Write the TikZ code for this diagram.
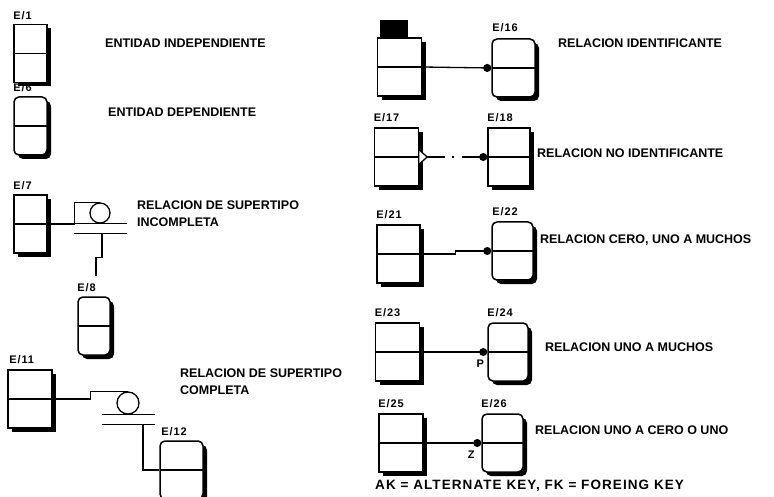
\documentclass[tikz,border=0pt]{standalone}
\usepackage{fontspec}
\setmainfont{Liberation Sans}
\newfontfamily\scanFont[LetterSpace=8]{Liberation Sans}
\usetikzlibrary{arrows.meta, positioning, calc, shadows}
\definecolor{inkBlack}{HTML}{000000}
\tikzset{
  entInd/.style={rectangle, draw=inkBlack, fill=white, line width=1.5pt, inner sep=0pt,
                 minimum width=44pt, minimum height=58pt,
                 general shadow={fill=inkBlack, shadow xshift=4pt, shadow yshift=-4pt},
                 path picture={\draw[line width=1.4pt] (path picture bounding box.west)
                               -- (path picture bounding box.east);}},
  entDep/.style={entInd, rounded corners=5pt},
  entName/.style={font=\scanFont\bfseries\fontsize{11}{11}\selectfont, inner sep=0pt},
  relText/.style={font=\bfseries\fontsize{12.5}{17}\selectfont, anchor=west, align=left, inner sep=0pt},
  relLine/.style={draw=inkBlack, line width=1.3pt},
  relDot/.style={relLine, -{Circle[length=8pt]}},
  keyMark/.style={font=\bfseries\fontsize{11}{11}\selectfont, inner sep=0pt},
}
\begin{document}
\begin{tikzpicture}[x=1pt, y=-1pt]
  \useasboundingbox (0,0) rectangle (774,497);
  % left column
  \node[entInd, minimum width=33pt] (e1) at (30.5,53.5) {};
  \node[entName, above right=4pt and 0pt of e1.north west] (n1) {E/1};
  \node[relText] (t1) at (105,43) {ENTIDAD INDEPENDIENTE};
  \node[entDep, minimum width=33pt] (e6) at (30.5,126) {};
  \node[entName, above right=4pt and 0pt of e6.north west] (n6) {E/6};
  \node[relText] (t6) at (108,112) {ENTIDAD DEPENDIENTE};
  \node[entInd, minimum width=33pt] (e7) at (30.5,224) {};
  \node[entName, above right=4pt and 0pt of e7.north west] (n7) {E/7};
  \node[entDep, minimum width=32pt] (e8) at (94,326) {};
  \node[entName, above right=4pt and 0pt of e8.north west] (n8) {E/8};
  \node[relText] (t7) at (137,214) {RELACION DE SUPERTIPO\\INCOMPLETA};
  % supertipo incompleta
  \node[circle, relLine, minimum size=20pt, inner sep=0pt] (c7) at (100,213) {};
  \coordinate (b7) at ($(c7.south)+(0,10)$);
  \coordinate (k8) at ($(e8.north)+(2,-20)$);
  \draw[relLine] (e7.east) -- ++(27,0) |- (c7.north);
  \draw[relLine] ($(c7.south)+(-26,0)$) -- ++(53,0);
  \draw[relLine] ($(b7)+(-26,0)$) -- ++(53,0);
  \draw[relLine] ($(b7)+(2,0)$) -- ++(0,24) -| (k8);
  % supertipo completa
  \node[entInd] (e11) at (30,399) {};
  \node[entName, above right=5pt and 2pt of e11.north west] (n11) {E/11};
  \node[entDep, minimum width=43pt] (e12) at (181.5,470) {};
  \node[entName, above right=4pt and 2pt of e12.north west] (n12) {E/12};
  \node[relText] (t11) at (180,382) {RELACION DE SUPERTIPO\\COMPLETA};
  \node[circle, relLine, minimum size=22pt, inner sep=0pt] (c11) at (128,403) {};
  \coordinate (b11) at ($(c11.south)+(0,10)$);
  \draw[relLine] (e11.east) -- ++(38,0) |- (c11.north);
  \draw[relLine] ($(c11.south)+(-26,0)$) -- ++(53,0);
  \draw[relLine] ($(b11)+(-26,0)$) -- ++(53,0);
  \draw[relLine] ($(b11)+(15,0)$) |- (e12.west);
  % right column
  \node[entInd] (r1) at (399.5,67) {};
  \node[fill=inkBlack, minimum width=28pt, minimum height=17pt, inner sep=0pt,
        above right=0pt and 3pt of r1.north west] (blot) {};
  \node[entDep, minimum width=43pt] (e16) at (513.5,68) {};
  \node[entName, above right=6pt and 1pt of e16.north west] (n16) {E/16};
  \node[relText] (t16) at (558,43) {RELACION IDENTIFICANTE};
  \draw[relDot] (r1.east) -- (e16.west);

  \node[entInd] (e17) at (396.5,157) {};
  \node[entName, above right=5pt and 0pt of e17.north west] (n17) {E/17};
  \node[entInd, minimum width=42pt] (e18) at (509,157) {};
  \node[entName, above right=5pt and 0pt of e18.north west] (n18) {E/18};
  \node[relText] (t18) at (537,153) {RELACION NO IDENTIFICANTE};
  \coordinate (tip17) at ($(e17.east)+(8,0)$);
  \draw[relLine, fill=white] ($(e17.east)+(0,-7)$) -- (tip17) -- ($(e17.east)+(0,7)$);
  \draw[relDot, dash pattern=on 18pt off 7pt on 2pt off 8pt] (tip17) -- (e18.west);

  \node[entInd, minimum width=43pt] (e21) at (398.5,254) {};
  \node[entName, above right=5pt and 0pt of e21.north west] (n21) {E/21};
  \node[entDep, minimum width=41pt] (e22) at (512.5,251) {};
  \node[entName, above right=5pt and 1pt of e22.north west] (n22) {E/22};
  \node[relText] (t22) at (540,240) {RELACION CERO, UNO A MUCHOS};
  \draw[relDot] (e21.east) -- ++(35,0) |- (e22.west);

  \node[entInd] (e23) at (397.5,352) {};
  \node[entName, above right=5pt and 0pt of e23.north west] (n23) {E/23};
  \node[entDep, minimum width=40pt] (e24) at (508,352) {};
  \node[entName, above right=5pt and 0pt of e24.north west] (n24) {E/24};
  \node[relText] (t24) at (545,347) {RELACION UNO A MUCHOS};
  \draw[relDot] (e23.east) -- (e24.west);
  \node[keyMark] (p24) at ($(e24.west)+(-7,12)$) {P};

  \node[entInd] (e25) at (401,443) {};
  \node[entName, above right=5pt and 0pt of e25.north west] (n25) {E/25};
  \node[entDep, minimum width=41pt] (e26) at (502.5,443) {};
  \node[entName, above right=5pt and 0pt of e26.north west] (n26) {E/26};
  \node[relText] (t26) at (535,430) {RELACION UNO A CERO O UNO};
  \draw[relDot] (e25.east) -- (e26.west);
  \node[keyMark] (z26) at ($(e26.west)+(-10,12)$) {Z};

  \node[relText, font=\scanFont\bfseries\fontsize{13.5}{15}\selectfont] (tak) at (375,486)
    {AK = ALTERNATE KEY, FK = FOREING KEY};
\end{tikzpicture}
\end{document}
